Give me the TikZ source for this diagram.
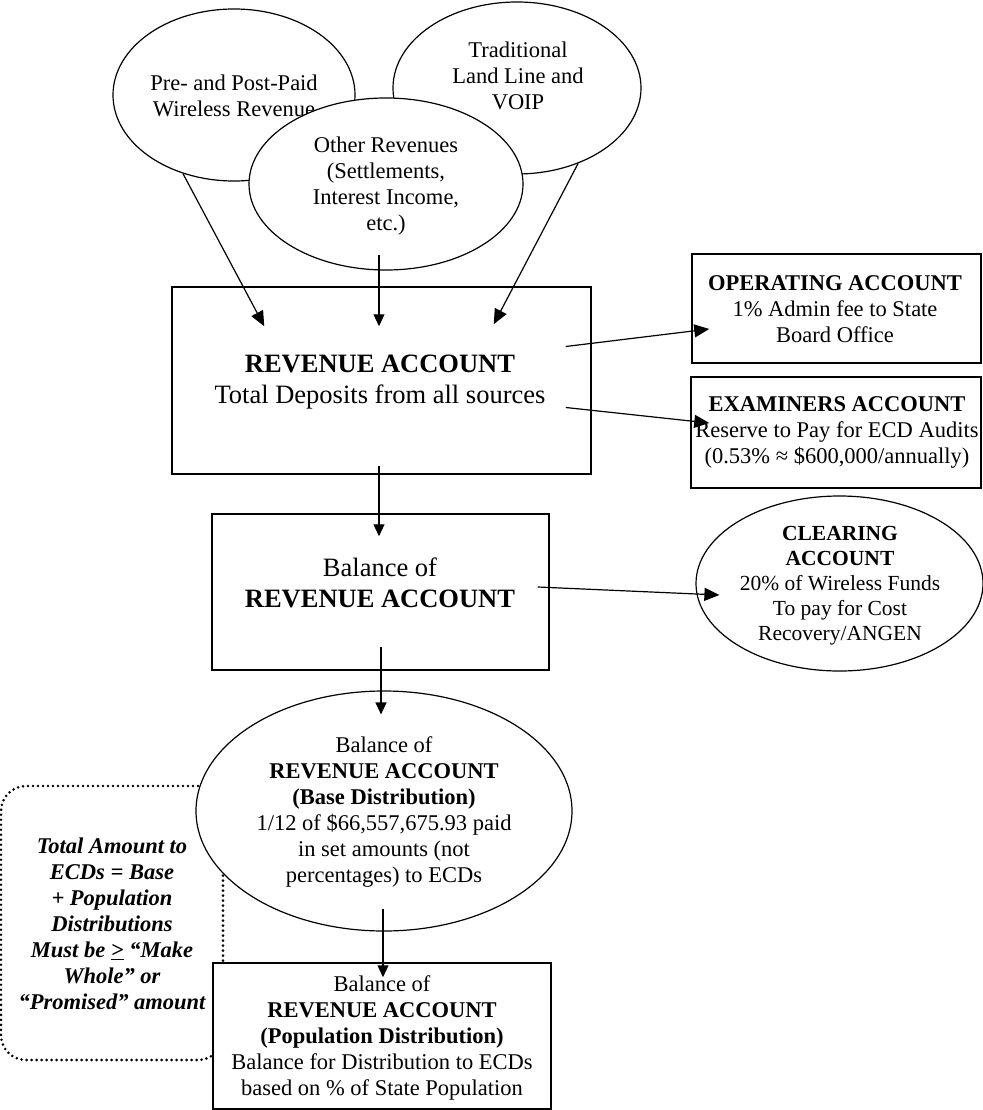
\documentclass[tikz,border=0pt]{standalone}
\usepackage{fontspec}
\setmainfont{Liberation Serif}
\usetikzlibrary{shapes.geometric,arrows.meta,calc}
\begin{document}
\begin{tikzpicture}[x=1pt,y=-1pt,
  every node/.style={align=center,inner sep=0pt,font=\fontsize{22.5}{26}\selectfont},
  oval/.style={draw,ellipse,fill=white,line width=1.2pt},
  box/.style={draw,rectangle,fill=white,line width=1.5pt},
  big/.style={font=\fontsize{26.5}{31}\selectfont},
  small/.style={font=\fontsize{21.5}{25}\selectfont},
  note/.style={draw,rectangle,rounded corners=25pt,line width=2.9pt,line cap=round,dash pattern=on 0pt off 5pt},
  arr/.style={line width=1.2pt,-{Triangle[length=15pt,width=13pt]}},
  darr/.style={line width=1.2pt,-{Triangle[length=12pt,width=11pt]}},
]
\useasboundingbox (0,0) rectangle (982,1110);
\fill[white] (0,0) rectangle (982,1110);

% top source ellipses
\node[oval,minimum width=242,minimum height=172] (e1) at (234,95) {};
\node (e1t) at (234,96) {Pre- and Post-Paid\\Wireless Revenue};
\node[oval,minimum width=248,minimum height=172] (e2) at (517,88) {};
\node (e2t) at (518,76) {Traditional\\Land Line and\\VOIP};
\node[oval,minimum width=274,minimum height=172] (e3) at (386,184) {};
\node (e3t) at (386,186) {Other Revenues\\(Settlements,\\Interest Income,\\etc.)};

% revenue account
\node[box,minimum width=419,minimum height=187] (rev) at (381.5,380.5) {};
\node[big] (revt) at (380,382) {\textbf{REVENUE ACCOUNT}\\Total Deposits from all sources};

% operating / examiners
\node[box,minimum width=289,minimum height=109] (op) at (836.5,308.5) {};
\node (opt) at (835,309) {\textbf{OPERATING ACCOUNT}\\1\% Admin fee to State\\Board Office};
\node[box,minimum width=290,minimum height=111] (exam) at (836,432.5) {};
\node (examt) at (837,432) {\textbf{EXAMINERS ACCOUNT}\\Reserve to Pay for ECD Audits\\(0.53\% ≈ \$600,000/annually)};

% balance box
\node[box,minimum width=337,minimum height=156] (bal) at (380.5,592) {};
\node[big] (balt) at (380,583) {Balance of\\\textbf{REVENUE ACCOUNT}};

% clearing
\node[oval,minimum width=287,minimum height=175] (clr) at (839.5,583.5) {};
\node[small] (clrt) at (840,586) {\textbf{CLEARING}\\\textbf{ACCOUNT}\\20\% of Wireless Funds\\To pay for Cost\\Recovery/ANGEN};

% note (dotted)
\node[note,minimum width=222,minimum height=274] (nt) at (112,923) {};
\node[font=\fontsize{22.5}{26}\selectfont\bfseries\itshape] (ntt) at (112,924)
  {Total Amount to\\ECDs = Base\\+ Population\\Distributions\\Must be \underline{>} “Make\\Whole” or\\“Promised” amount};

% base distribution
\node[oval,minimum width=376,minimum height=240] (base) at (384,811) {};
\node (baset) at (384,812) {Balance of\\\textbf{REVENUE ACCOUNT}\\\textbf{(Base Distribution)}\\1/12 of \$66,557,675.93 paid\\in set amounts (not\\percentages) to ECDs};

% population distribution
\node[box,minimum width=338,minimum height=146] (bot) at (382,1036) {};
\node (bott) at (382,1038) {Balance of\\\textbf{REVENUE ACCOUNT}\\\textbf{(Population Distribution)}\\Balance for Distribution to ECDs\\based on \% of State Population};

% connector end points
\coordinate (a1s) at (e1.237);
\coordinate (a1e) at ($(rev.north west)+(93,40)$);
\coordinate (a2s) at ($(e3.center)+(-7,71)$);
\coordinate (a2e) at ($(rev.north)+(-2.5,40)$);
\coordinate (a3s) at (e2.-51);
\coordinate (a3e) at ($(rev.north east)+(-98,38)$);
\coordinate (a4s) at ($(rev.east)+(-26,-34)$);
\coordinate (a4e) at ($(op.west)+(18,20.5)$);
\coordinate (a5s) at ($(rev.east)+(-26,27)$);
\coordinate (a5e) at ($(exam.west)+(19,-9.5)$);
\coordinate (a7s) at ($(rev.south)+(-2.5,-9)$);
\coordinate (a7e) at ($(bal.north)+(-1.5,23)$);
\coordinate (a8s) at ($(bal.east)+(-12,-5)$);
\coordinate (a8e) at ($(clr.west)+(24,11.5)$);
\coordinate (a6s) at ($(bal.south)+(0.5,-24)$);
\coordinate (a6e) at ($(base.north)+(-3,24)$);
\coordinate (a9s) at ($(base.south)+(-1,-23)$);
\coordinate (a9e) at ($(bot.north)+(1,15)$);

\draw[arr] (a1s) -- (a1e);
\draw[darr] (a2s) -- (a2e);
\draw[arr] (a3s) -- (a3e);
\draw[arr] (a4s) -- (a4e);
\draw[arr] (a5s) -- (a5e);
\draw[darr] (a7s) -- (a7e);
\draw[arr] (a8s) -- (a8e);
\draw[darr] (a6s) -- (a6e);
\draw[darr] (a9s) -- (a9e);
\end{tikzpicture}
\end{document}
